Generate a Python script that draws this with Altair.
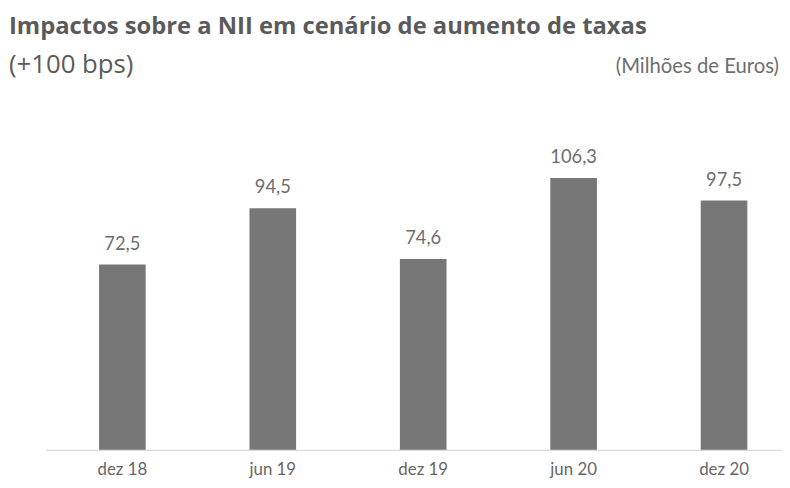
import altair as alt
import pandas as pd

periods = ["dez 18", "jun 19", "dez 19", "jun 20", "dez 20"]
values = [72.5, 94.5, 74.6, 106.3, 97.5]
title_line1 = "Impactos sobre a NII em cenário de aumento de taxas"
title_line2 = "(+100 bps)"
unit_note = "(Milhões de Euros)"

df = pd.DataFrame({
    "periodo": periods,
    "valor": values,
    "rotulo": [f"{v:.1f}".replace(".", ",") for v in values],
})

W, H = 744, 352

x_enc = alt.X(
    "periodo:N", sort=periods, title=None,
    scale=alt.Scale(paddingInner=0.69, paddingOuter=0.2928, align=0.6067),
    axis=alt.Axis(
        labelAngle=0, ticks=False, tickSize=0, grid=False,
        domainColor="#d9d9d9", domainWidth=1.2,
        labelFont="Lato", labelFontSize=17, labelColor="#666666",
        labelBaseline="alphabetic", labelPadding=25,
    ),
)
y_enc = alt.Y("valor:Q", scale=alt.Scale(domain=[0, 136.2]), axis=None)

base = alt.Chart(df)
bars = base.mark_bar(color="#777777").encode(x=x_enc, y=y_enc)
labels = base.mark_text(
    font="Lato", fontSize=18.5, color="#6e6e6e", baseline="alphabetic", dy=-15
).encode(x=x_enc, y=y_enc, text="rotulo:N")

t1 = alt.Chart(pd.DataFrame({"t": [title_line1]})).mark_text(
    font="Open Sans", fontSize=24, fontWeight="bold", color="#5a5a5a",
    align="left", baseline="alphabetic"
).encode(text="t:N", x=alt.value(-37), y=alt.value(-68.3))

t2 = alt.Chart(pd.DataFrame({"t": [title_line2]})).mark_text(
    font="Open Sans", fontSize=26, color="#5a5a5a",
    align="left", baseline="alphabetic"
).encode(text="t:N", x=alt.value(-37), y=alt.value(-28.5))

t3 = alt.Chart(pd.DataFrame({"t": [unit_note]})).mark_text(
    font="Lato", fontSize=20.5, color="#6e6e6e",
    align="right", baseline="alphabetic"
).encode(text="t:N", x=alt.value(741), y=alt.value(-28.3))

chart = alt.layer(bars, labels, t1, t2, t3).properties(
    width=W, height=H,
    autosize=alt.AutoSizeParams(type="none"),
    padding={"left": 38, "top": 92, "right": 0, "bottom": 28},
    background="white",
).configure_view(stroke=None)

chart.save("out.html", embed_options={"renderer": "svg", "actions": False})
